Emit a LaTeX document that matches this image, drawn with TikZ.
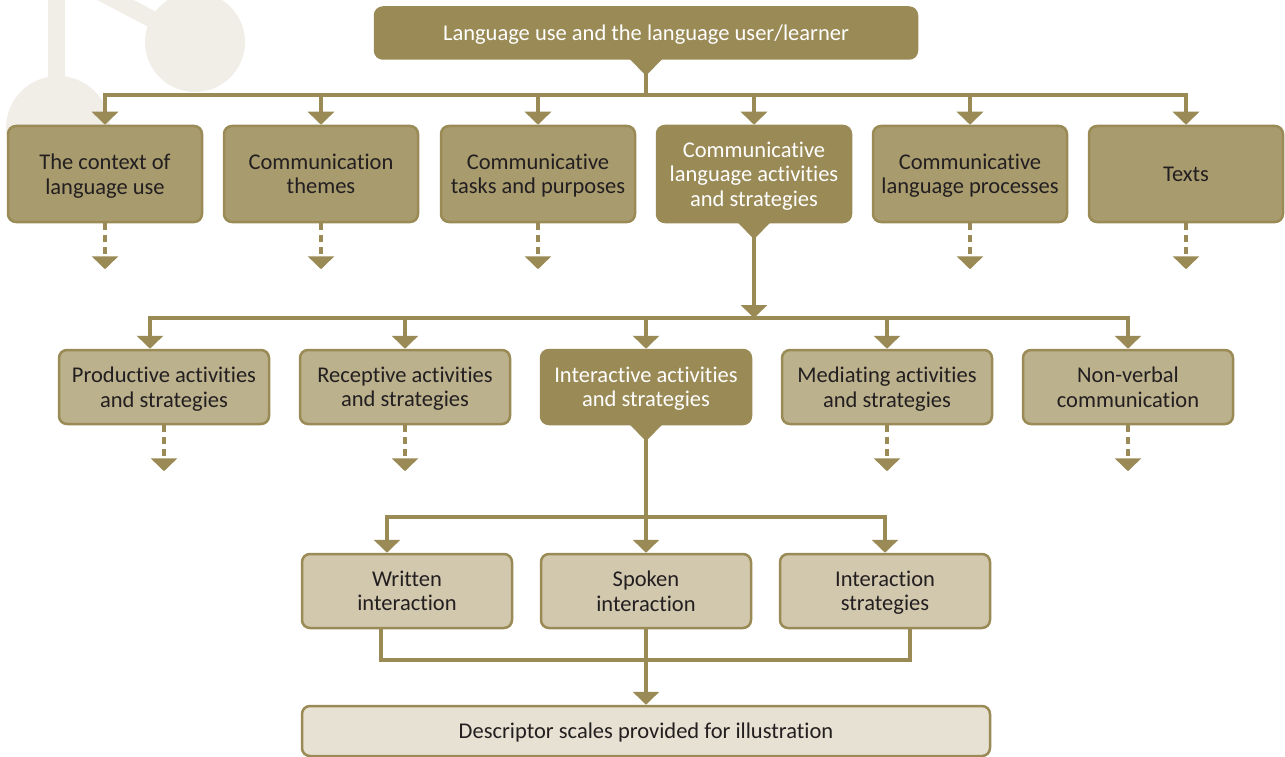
\documentclass[tikz,border=0pt]{standalone}
\usepackage{fontspec}
\setmainfont{Carlito}[Ligatures=NoCommon]
\usetikzlibrary{arrows.meta}
\usetikzlibrary{positioning}
\definecolor{olive}{HTML}{9A8A55}
\definecolor{oliveA}{HTML}{A89B6E}
\definecolor{oliveB}{HTML}{BBB18D}
\definecolor{oliveC}{HTML}{D1C8AE}
\definecolor{oliveD}{HTML}{E6E1D2}
\definecolor{ink}{HTML}{231F20}
\definecolor{blob}{HTML}{F1EEE8}
\tikzset{base/.style = {draw=olive, line width=2.5pt, rounded corners=8pt,
                        align=center, inner sep=0pt, text=ink, text depth=0pt,
                        font=\fontsize{22.5}{24.5}\selectfont},
         darkbox/.style = {base, fill=olive, text=white},
         boxA/.style = {base, fill=oliveA, minimum width=194pt, minimum height=96pt},
         boxB/.style = {base, fill=oliveB, minimum width=210pt, minimum height=74pt},
         boxC/.style = {base, fill=oliveC, minimum width=210pt, minimum height=74pt},
         arr/.style = {draw=olive, line width=3.5pt,
                       -{Triangle[width=26pt,length=13pt]}},
         dasharr/.style = {arr, dash pattern=on 7pt off 5pt},
         link/.style = {draw=olive, line width=3.5pt}}

\begin{document}
\begin{tikzpicture}[x=1pt, y=-1pt]
    \useasboundingbox (0, 0) rectangle (1285, 757);
    % background shapes
    \begin{scope}
      \clip (0, 0) rectangle (1285, 757);
      \fill [blob] (48, -5) rectangle (65, 90);
      \fill [blob] (58, 128) circle (52);
      \fill [blob] (195, 42) circle (50);
      \draw [blob, line width=17pt] (70, -24) -- (195, 42);
    \end{scope}

    % top
    \node (top) at (646, 33) [darkbox, minimum width=542pt, minimum height=51pt]
      {Language use and the language user/learner};
    \coordinate (bus1) at (646, 95);

    % first row
    \node (ctx) at (105, 174) [boxA] {The context of\\language use};
    \node (themes) at (321, 174) [boxA] {Communication\\themes};
    \node (tasks) at (538, 174) [boxA] {Communicative\\tasks and purposes};
    \node (cla) at (754, 174) [boxA, darkbox] {Communicative\\language activities\\and strategies};
    \node (clp) at (970, 174) [boxA] {Communicative\\language processes};
    \node (texts) at (1186, 174) [boxA] {Texts};
    \coordinate (bus2) at (754, 318);

    % second row
    \node (prod) at (164, 387) [boxB] {Productive activities\\and strategies};
    \node (rec) at (405, 387) [boxB] {Receptive activities\\and strategies};
    \node (inter) at (646, 387) [boxB, darkbox] {Interactive activities\\and strategies};
    \node (med) at (887, 387) [boxB] {Mediating activities\\and strategies};
    \node (nonv) at (1128, 387) [boxB] {Non-verbal\\communication};
    \coordinate (bus3) at (646, 517);

    % third row
    \node (written) at (407, 591) [boxC] {Written\\interaction};
    \node (spoken) at (646, 591) [boxC] {Spoken\\interaction};
    \node (strat) at (885, 591) [boxC] {Interaction\\strategies};
    \coordinate (join) at (646, 660);

    \node (desc) at (646, 731) [base, fill=oliveD, minimum width=688pt, minimum height=50pt]
      {Descriptor scales provided for illustration};

    % notches
    \foreach \n in {top, cla, inter}
      \fill [olive] ([xshift=-17pt, yshift=1.5pt]\n.south) -- ([xshift=17pt, yshift=1.5pt]\n.south)
        -- ([yshift=-16pt]\n.south) -- cycle;

    \draw [link] (top.south) -- (bus1);
    \foreach \n in {ctx, themes, tasks, cla, clp, texts}
      \draw [arr] (bus1) -| (\n.north);

    \draw [arr] (cla.south) -- (bus2);
    \draw [arr] (bus2) -| ([xshift=-14pt]prod.north);
    \foreach \n in {rec, inter, med, nonv}
      \draw [arr] (bus2) -| (\n.north);

    \draw [link] (inter.south) -- (bus3);
    \draw [arr] (bus3) -| ([xshift=-20pt]written.north);
    \draw [arr] (bus3) -- (spoken.north);
    \draw [arr] (bus3) -| (strat.north);

    \draw [link] ([xshift=-26pt]written.south) |- (join) -| ([xshift=25pt]strat.south);
    \draw [arr] (spoken.south) -- (desc.north);

    % dashed outlets
    \foreach \n in {ctx, themes, tasks, clp, texts, prod, rec, med, nonv} {
      \coordinate [below=46pt of \n] (\n-out);
      \draw [dasharr] (\n) -- (\n-out);
    }
  \end{tikzpicture}
\end{document}
